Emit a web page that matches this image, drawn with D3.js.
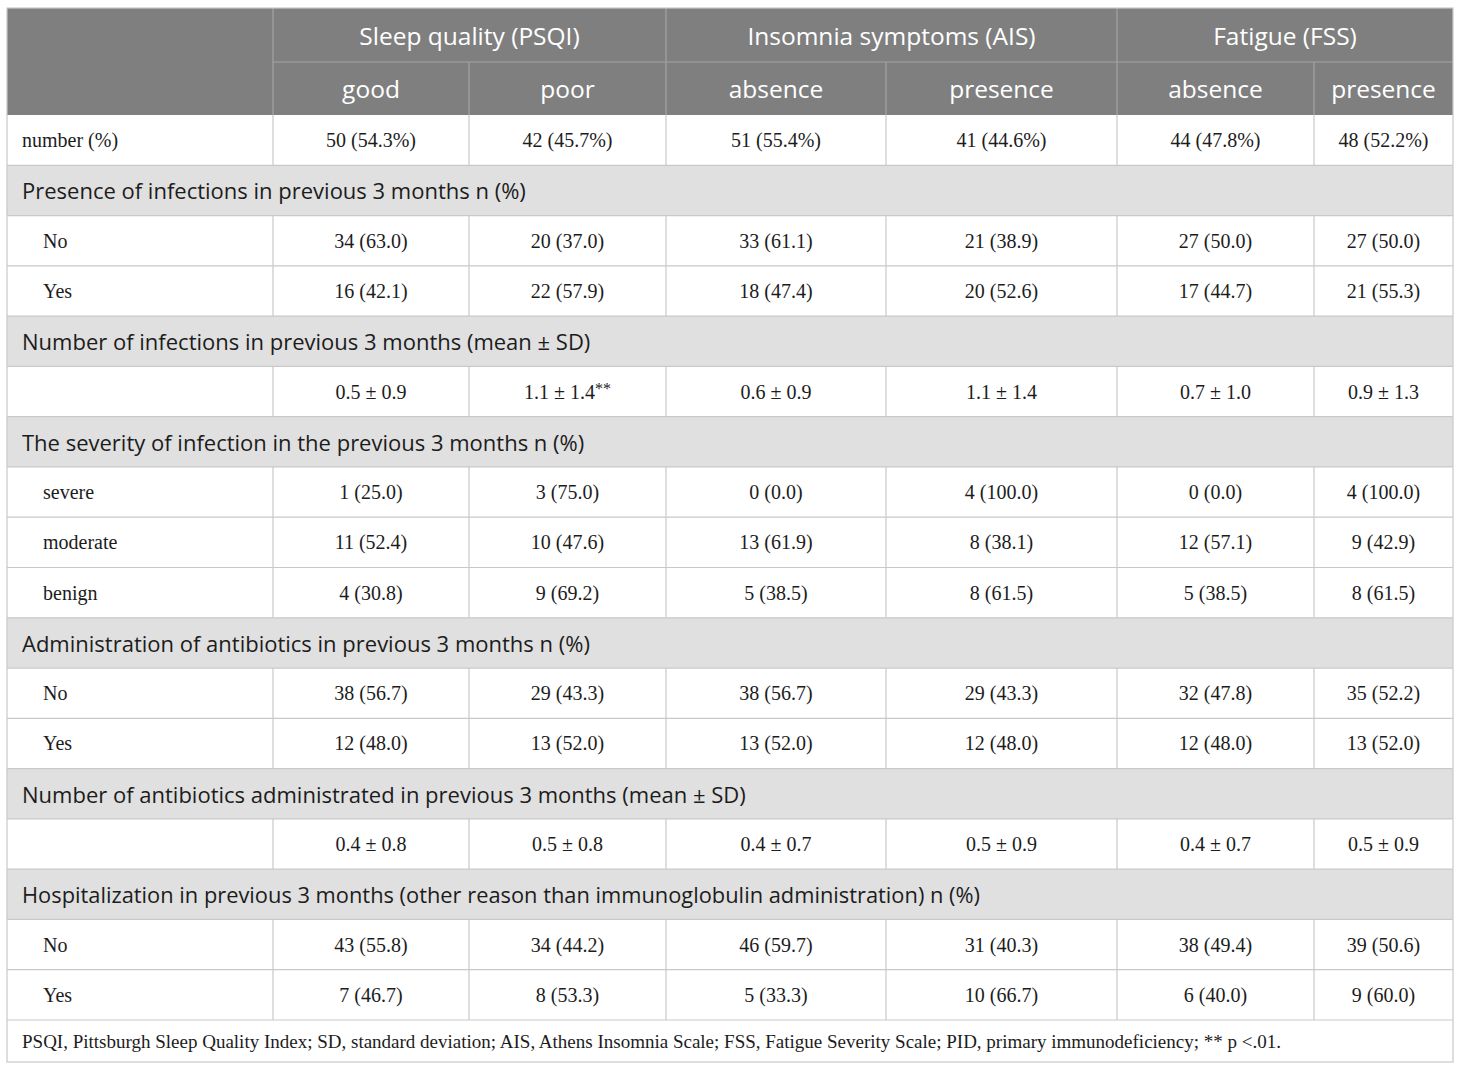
<!DOCTYPE html>
<html>
<head>
<meta charset="utf-8">
<script src="https://cdn.jsdelivr.net/npm/d3@7"></script>
<style>
  body { margin: 0; background: #fff; }
</style>
</head>
<body>
<div id="table-container"></div>
<script>
// Header labels
const groups = ["Sleep quality (PSQI)", "Insomnia symptoms (AIS)", "Fatigue (FSS)"];
const subgroups = ["good", "poor", "absence", "presence", "absence", "presence"];

// Table values, one array per block
const numberRow = ["number (%)", ["50 (54.3%)", "42 (45.7%)", "51 (55.4%)", "41 (44.6%)", "44 (47.8%)", "48 (52.2%)"]];

const infectionsPresence = [
  ["No", ["34 (63.0)", "20 (37.0)", "33 (61.1)", "21 (38.9)", "27 (50.0)", "27 (50.0)"]],
  ["Yes", ["16 (42.1)", "22 (57.9)", "18 (47.4)", "20 (52.6)", "17 (44.7)", "21 (55.3)"]]
];
const infectionsNumber = [
  ["", ["0.5 ± 0.9", "1.1 ± 1.4**", "0.6 ± 0.9", "1.1 ± 1.4", "0.7 ± 1.0", "0.9 ± 1.3"]]
];
const infectionSeverity = [
  ["severe", ["1 (25.0)", "3 (75.0)", "0 (0.0)", "4 (100.0)", "0 (0.0)", "4 (100.0)"]],
  ["moderate", ["11 (52.4)", "10 (47.6)", "13 (61.9)", "8 (38.1)", "12 (57.1)", "9 (42.9)"]],
  ["benign", ["4 (30.8)", "9 (69.2)", "5 (38.5)", "8 (61.5)", "5 (38.5)", "8 (61.5)"]]
];
const antibioticsPresence = [
  ["No", ["38 (56.7)", "29 (43.3)", "38 (56.7)", "29 (43.3)", "32 (47.8)", "35 (52.2)"]],
  ["Yes", ["12 (48.0)", "13 (52.0)", "13 (52.0)", "12 (48.0)", "12 (48.0)", "13 (52.0)"]]
];
const antibioticsNumber = [
  ["", ["0.4 ± 0.8", "0.5 ± 0.8", "0.4 ± 0.7", "0.5 ± 0.9", "0.4 ± 0.7", "0.5 ± 0.9"]]
];
const hospitalization = [
  ["No", ["43 (55.8)", "34 (44.2)", "46 (59.7)", "31 (40.3)", "38 (49.4)", "39 (50.6)"]],
  ["Yes", ["7 (46.7)", "8 (53.3)", "5 (33.3)", "10 (66.7)", "6 (40.0)", "9 (60.0)"]]
];

const sectionTitles = [
  "Presence of infections in previous 3 months n (%)",
  "Number of infections in previous 3 months (mean ± SD)",
  "The severity of infection in the previous 3 months n (%)",
  "Administration of antibiotics in previous 3 months n (%)",
  "Number of antibiotics administrated in previous 3 months (mean ± SD)",
  "Hospitalization in previous 3 months (other reason than immunoglobulin administration) n (%)"
];
const sectionRows = [infectionsPresence, infectionsNumber, infectionSeverity,
  antibioticsPresence, antibioticsNumber, hospitalization];

const footnote = "PSQI, Pittsburgh Sleep Quality Index; SD, standard deviation; AIS, Athens Insomnia Scale; FSS, Fatigue Severity Scale; PID, primary immunodeficiency; ** p <.01.";

// Flatten into body rows
const bodyRows = [{ type: "data", label: numberRow[0], values: numberRow[1], indent: false }];
sectionTitles.forEach((t, i) => {
  bodyRows.push({ type: "section", label: t });
  sectionRows[i].forEach(r => bodyRows.push({ type: "data", label: r[0], values: r[1], indent: true }));
});

// Layout
const width = 1460;
const height = 1071;
const tLeft = 7, tRight = 1453, tTop = 8;
const colEdges = [7, 273, 469, 666, 886, 1117, 1314, 1453];
const headMid = 62, headBottom = 115;
const footTop = 1020, footBottom = 1062;

const headerBg = "#7f7f7f";
const headerLine = "#a3a3a3";
const sectionBg = "#e0e0e0";
const gridColor = "#c9c9c9";
const textColor = "#1c1c1c";
const sansFont = "'Open Sans', 'Noto Sans', sans-serif";
const serifFont = "'Liberation Serif', 'DejaVu Serif', serif";

const y = d3.scaleLinear().domain([0, bodyRows.length]).range([headBottom, footTop]);
const colMid = i => (colEdges[i + 1] + colEdges[i + 2]) / 2;

const svg = d3.select("#table-container")
  .append("svg")
  .attr("width", width)
  .attr("height", height)
  .style("display", "block");

// Header background
svg.append("rect")
  .attr("x", tLeft).attr("y", tTop)
  .attr("width", tRight - tLeft).attr("height", headBottom - tTop)
  .attr("fill", headerBg);

// Header lines
const hdr = svg.append("g").attr("stroke", headerLine).attr("stroke-width", 1.2);
hdr.append("line").attr("x1", colEdges[1]).attr("x2", tRight).attr("y1", headMid).attr("y2", headMid);
[1, 3, 5].forEach(i => hdr.append("line")
  .attr("x1", colEdges[i]).attr("x2", colEdges[i]).attr("y1", tTop).attr("y2", headBottom));
[2, 4, 6].forEach(i => hdr.append("line")
  .attr("x1", colEdges[i]).attr("x2", colEdges[i]).attr("y1", headMid).attr("y2", headBottom));

// Header texts
svg.append("g").selectAll("text")
  .data(groups)
  .join("text")
  .attr("x", (d, i) => (colEdges[1 + i * 2] + colEdges[3 + i * 2]) / 2)
  .attr("y", (tTop + headMid) / 2)
  .attr("text-anchor", "middle")
  .attr("dominant-baseline", "central")
  .style("font-family", sansFont)
  .style("font-size", "24.5px")
  .style("fill", "#fff")
  .text(d => d);

svg.append("g").selectAll("text")
  .data(subgroups)
  .join("text")
  .attr("x", (d, i) => colMid(i))
  .attr("y", (headMid + headBottom) / 2)
  .attr("text-anchor", "middle")
  .attr("dominant-baseline", "central")
  .style("font-family", sansFont)
  .style("font-size", "24.5px")
  .style("fill", "#fff")
  .text(d => d);

// Body rows
const rowG = svg.append("g").selectAll("g")
  .data(bodyRows)
  .join("g")
  .attr("transform", (d, i) => `translate(0,${y(i)})`);

const rowH = y(1) - y(0);

rowG.filter(d => d.type === "section")
  .append("rect")
  .attr("x", tLeft).attr("y", 0)
  .attr("width", tRight - tLeft).attr("height", rowH)
  .attr("fill", sectionBg);

rowG.filter(d => d.type === "section")
  .append("text")
  .attr("x", 22)
  .attr("y", rowH / 2)
  .attr("dominant-baseline", "central")
  .style("font-family", sansFont)
  .style("font-size", "22px")
  .style("fill", textColor)
  .text(d => d.label)
  .each(function () {
    // squeeze the very long title, as the source does
    const maxW = 958;
    if (this.getComputedTextLength() > maxW) {
      d3.select(this).attr("textLength", maxW).attr("lengthAdjust", "spacingAndGlyphs");
    }
  });

const dataRows = rowG.filter(d => d.type === "data");

// vertical cell separators
dataRows.selectAll("line.v")
  .data(colEdges.slice(1, -1))
  .join("line")
  .attr("class", "v")
  .attr("x1", d => d).attr("x2", d => d)
  .attr("y1", 0).attr("y2", rowH)
  .attr("stroke", gridColor)
  .attr("stroke-width", 1.2);

dataRows.append("text")
  .attr("x", d => d.indent ? 43 : 22)
  .attr("y", rowH / 2)
  .attr("dominant-baseline", "central")
  .style("font-family", serifFont)
  .style("font-size", "20px")
  .style("fill", textColor)
  .text(d => d.label);

dataRows.selectAll("text.val")
  .data(d => d.values)
  .join("text")
  .attr("class", "val")
  .attr("x", (d, i) => colMid(i))
  .attr("y", rowH / 2)
  .attr("text-anchor", "middle")
  .attr("dominant-baseline", "central")
  .style("font-family", serifFont)
  .style("font-size", "20px")
  .style("fill", textColor)
  .each(function (d) {
    const t = d3.select(this);
    const m = d.match(/^(.*?)(\*+)$/);
    if (m) {
      t.append("tspan").text(m[1]);
      t.append("tspan")
        .attr("dy", -4)
        .style("font-size", "16px")
        .text(m[2]);
    } else {
      t.text(d);
    }
  });

// horizontal grid lines
const hLines = svg.append("g").attr("stroke", gridColor).attr("stroke-width", 1.2);
d3.range(1, bodyRows.length + 1).forEach(i => {
  hLines.append("line").attr("x1", tLeft).attr("x2", tRight).attr("y1", y(i)).attr("y2", y(i));
});

// Footnote
svg.append("text")
  .attr("x", 22)
  .attr("y", (footTop + footBottom) / 2)
  .attr("dominant-baseline", "central")
  .style("font-family", serifFont)
  .style("font-size", "19px")
  .style("fill", textColor)
  .text(footnote);

// Outer border
svg.append("rect")
  .attr("x", tLeft).attr("y", tTop)
  .attr("width", tRight - tLeft).attr("height", footBottom - tTop)
  .attr("fill", "none")
  .attr("stroke", gridColor)
  .attr("stroke-width", 1.2);
</script>
</body>
</html>
